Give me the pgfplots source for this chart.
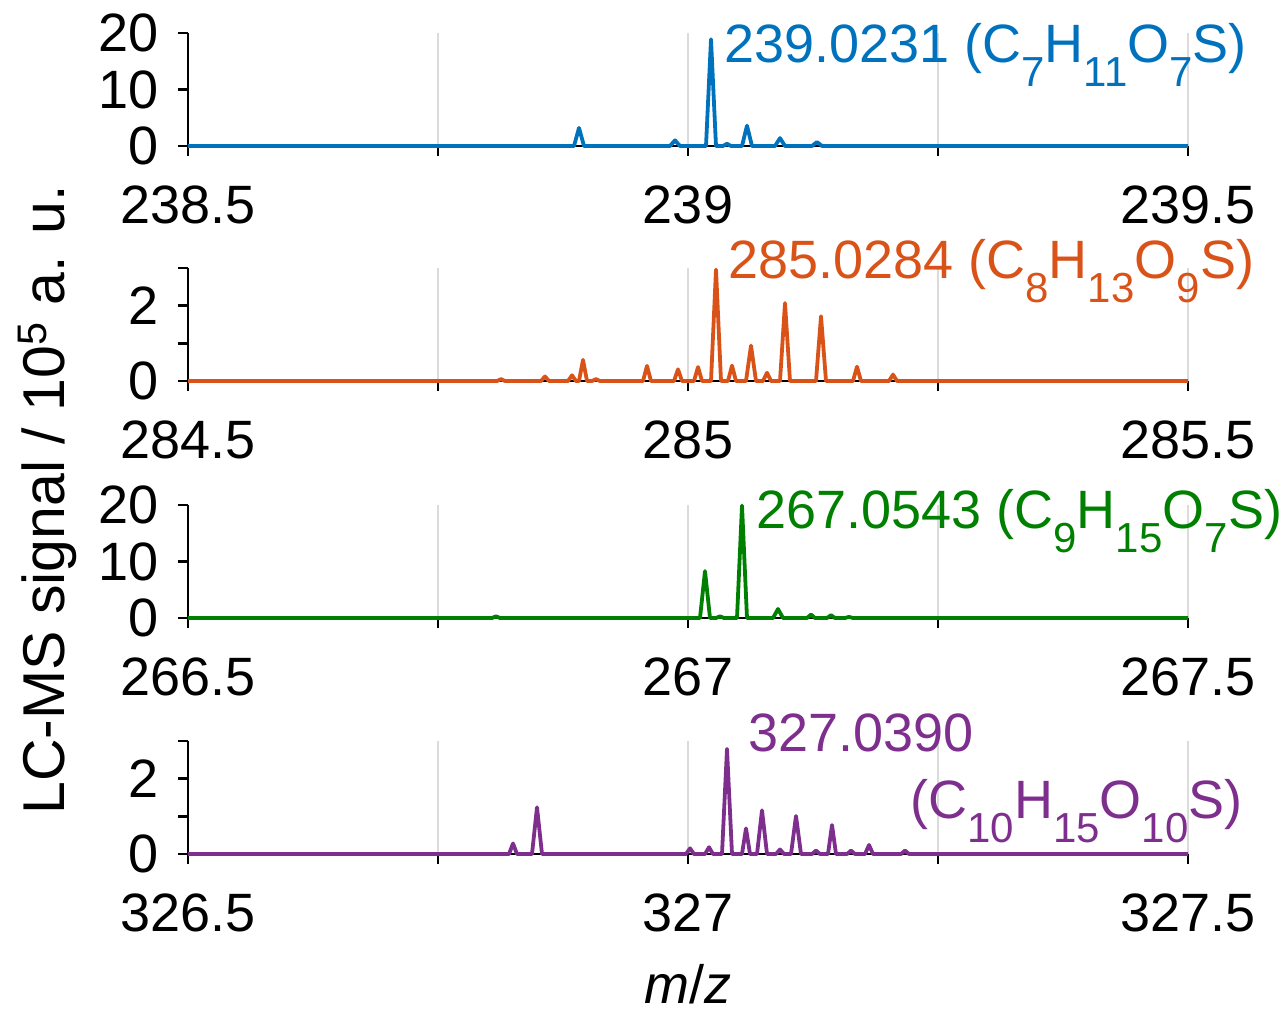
\documentclass[border=0pt]{standalone}
\usepackage{pgfplots}
\pgfplotsset{compat=1.18}
\usepackage{fontspec}
\setmainfont{Liberation Sans}
\definecolor{c1}{HTML}{0072BD}
\definecolor{c2}{HTML}{D95319}
\definecolor{c3}{HTML}{008000}
\definecolor{c4}{HTML}{7E2F8E}
\newcommand{\sub}[1]{\raisebox{-12pt}{\fontsize{21}{21}\selectfont #1}}
\pgfplotsset{panel/.style={
  scale only axis, width=500pt, height=56.5pt,
  axis x line=bottom, axis y line=left,
  axis line style={-, line width=1.4pt, black},
  tick align=outside, major tick length=5pt,
  tick style={black, line width=1.2pt},
  xmajorgrids, grid style={black!14, line width=1pt},
  ymin=0, clip=false,
  every tick label/.append style={font=\fontsize{27}{31}\selectfont},
  /pgf/number format/assume math mode=true,
  xticklabel style={inner sep=1pt, yshift=-13.7pt},
  yticklabel style={xshift=-6pt},
  every axis plot/.append style={line width=1.9pt, line join=round},
}}
\begin{document}
\begin{tikzpicture}
\path[use as bounding box] (-94pt,-434pt) rectangle (548pt,73pt);
\begin{axis}[panel, at={(0pt,0pt)}, xmin=238.5, xmax=239.5, ymax=20,
  xtick={238.5,238.75,239,239.25,239.5}, xticklabels={238.5,,239,,239.5},
  ytick={0,10,20}, yticklabels={0,10,20}]
\addplot[c1] coordinates {(238.5,0) (238.886,0) (238.891,3.2) (238.896,0) (238.982,0) (238.987,1.0) (238.992,0) (239.018,0) (239.023,18.9) (239.028,0) (239.035,0) (239.039,0.4) (239.043,0) (239.054,0) (239.059,3.6) (239.064,0) (239.087,0) (239.092,1.4) (239.097,0) (239.124,0) (239.129,0.7) (239.134,0) (239.5,0)};
\node[c1, anchor=base west, font=\fontsize{27}{31}\selectfont, inner sep=0pt] at (axis cs:239.036,14.7) {239.0231 (C\sub{7}H\sub{11}O\sub{7}S)};
\end{axis}
\begin{axis}[panel, at={(0pt,-117.5pt)}, xmin=284.5, xmax=285.5, ymax=3,
  xtick={284.5,284.75,285,285.25,285.5}, xticklabels={284.5,,285,,285.5},
  ytick={0,1,2,3}, yticklabels={0,,2,}]
\addplot[c2] coordinates {(284.5,0) (284.809,0)(284.813,0.05)(284.817,0) (284.853,0)(284.857,0.12)(284.861,0) (284.880,0)(284.884,0.15)(284.888,0) (284.891,0)(284.895,0.56)(284.899,0) (284.904,0)(284.908,0.05)(284.912,0) (284.955,0)(284.959,0.40)(284.963,0) (284.986,0)(284.990,0.31)(284.994,0) (285.006,0)(285.010,0.37)(285.014,0) (285.023,0)(285.028,2.96)(285.033,0) (285.040,0)(285.044,0.41)(285.048,0) (285.058,0)(285.063,0.94)(285.068,0) (285.075,0)(285.079,0.22)(285.083,0) (285.092,0)(285.097,2.07)(285.102,0) (285.128,0)(285.133,1.72)(285.138,0) (285.165,0)(285.169,0.38)(285.173,0) (285.201,0)(285.205,0.17)(285.209,0) (285.5,0)};
\node[c2, anchor=base west, font=\fontsize{27}{31}\selectfont, inner sep=0pt] at (axis cs:285.040,2.73) {285.0284 (C\sub{8}H\sub{13}O\sub{9}S)};
\end{axis}
\begin{axis}[panel, at={(0pt,-236pt)}, xmin=266.5, xmax=267.5, ymax=20,
  xtick={266.5,266.75,267,267.25,267.5}, xticklabels={266.5,,267,,267.5},
  ytick={0,10,20}, yticklabels={0,10,20}]
\addplot[c3] coordinates {(266.5,0) (266.804,0)(266.808,0.3)(266.812,0) (267.012,0)(267.017,8.3)(267.022,0) (267.028,0)(267.032,0.3)(267.036,0) (267.049,0)(267.054,19.9)(267.059,0) (267.085,0)(267.090,1.6)(267.095,0) (267.119,0)(267.123,0.6)(267.127,0) (267.139,0)(267.143,0.5)(267.147,0) (267.157,0)(267.161,0.2)(267.165,0) (267.5,0)};
\node[c3, anchor=base west, font=\fontsize{27}{31}\selectfont, inner sep=0pt] at (axis cs:267.068,15.9) {267.0543 (C\sub{9}H\sub{15}O\sub{7}S)};
\end{axis}
\begin{axis}[panel, at={(0pt,-354pt)}, xmin=326.5, xmax=327.5, ymax=3,
  xtick={326.5,326.75,327,327.25,327.5}, xticklabels={326.5,,327,,327.5},
  ytick={0,1,2,3}, yticklabels={0,,2,}]
\addplot[c4] coordinates {(326.5,0) (326.821,0)(326.825,0.28)(326.829,0) (326.844,0)(326.849,1.24)(326.854,0) (326.998,0)(327.002,0.15)(327.006,0) (327.017,0)(327.021,0.18)(327.025,0) (327.034,0)(327.039,2.79)(327.044,0) (327.054,0)(327.058,0.68)(327.062,0) (327.069,0)(327.074,1.16)(327.079,0) (327.088,0)(327.092,0.12)(327.096,0) (327.103,0)(327.108,1.01)(327.113,0) (327.124,0)(327.128,0.09)(327.132,0) (327.140,0)(327.144,0.77)(327.148,0) (327.159,0)(327.163,0.09)(327.167,0) (327.177,0)(327.181,0.24)(327.185,0) (327.213,0)(327.217,0.09)(327.221,0) (327.5,0)};
\node[c4, anchor=base west, font=\fontsize{27}{31}\selectfont, inner sep=0pt] at (axis cs:327.060,2.71) {327.0390};
\node[c4, anchor=base west, font=\fontsize{27}{31}\selectfont, inner sep=0pt] at (axis cs:327.222,0.95) {(C\sub{10}H\sub{15}O\sub{10}S)};
\end{axis}
\node[rotate=90, font=\fontsize{29.5}{33}\selectfont] at (-70.5pt,-177pt) {LC-MS signal / 10\textsuperscript{5} a. u.};
\node[font=\fontsize{27}{31}\selectfont, inner sep=0pt] at (250pt,-419pt) {\textit{m}/\textit{z}};
\end{tikzpicture}
\end{document}
